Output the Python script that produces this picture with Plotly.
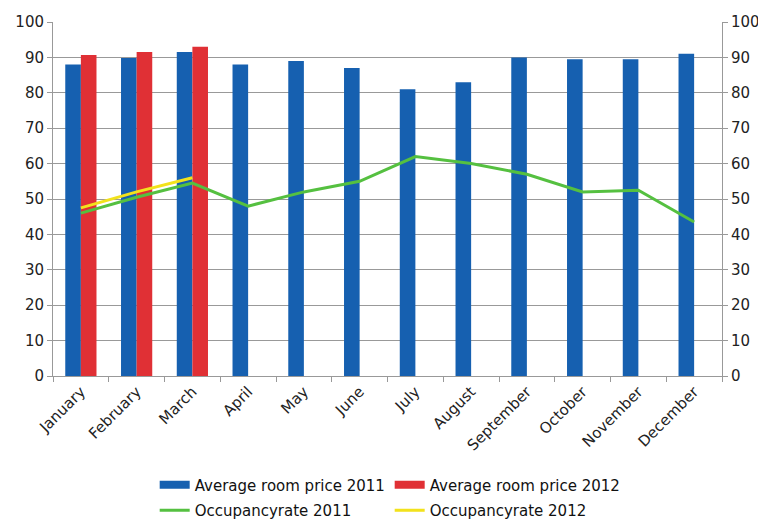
import plotly.graph_objects as go

months = ["January", "February", "March", "April", "May", "June", "July",
          "August", "September", "October", "November", "December"]
price_2011 = [88, 89.8, 91.5, 88, 89, 87, 81, 83, 90, 89.5, 89.5, 91]
price_2012 = [90.7, 91.5, 93, None, None, None, None, None, None, None, None, None]
occ_2011 = [46, 50.5, 54.5, 48, 52, 55, 62, 60, 57, 52, 52.5, 43.5]
occ_2012 = [47.5, 52, 56]
tick_vals = [0, 10, 20, 30, 40, 50, 60, 70, 80, 90, 100]

BLUE = "#1660B0"
RED = "#E03035"
GREEN = "#55C040"
YELLOW = "#F2E21C"

fig = go.Figure()
fig.add_trace(go.Bar(x=months, y=price_2011, name="Average room price 2011",
                     marker=dict(color=BLUE, line=dict(width=0)), showlegend=False))
fig.add_trace(go.Bar(x=months, y=price_2012, name="Average room price 2012",
                     marker=dict(color=RED, line=dict(width=0)), showlegend=False))
fig.add_trace(go.Scatter(x=months, y=occ_2011, name="Occupancyrate 2011", mode="lines",
                         line=dict(color=GREEN, width=3), yaxis="y2", legend="legend2"))
fig.add_trace(go.Scatter(x=months[:3], y=occ_2012, name="Occupancyrate 2012", mode="lines",
                         line=dict(color=YELLOW, width=3), yaxis="y2", legend="legend2"))
# legend-only swatches for the bar series (wide rectangles like the original)
fig.add_trace(go.Scatter(x=[None], y=[None], name="Average room price 2011", mode="lines",
                         line=dict(color=BLUE, width=8), legend="legend"))
fig.add_trace(go.Scatter(x=[None], y=[None], name="Average room price 2012", mode="lines",
                         line=dict(color=RED, width=8), legend="legend"))

FONT = "DejaVu Sans, Liberation Sans, Arial, sans-serif"
tick_font = dict(family=FONT, size=15, color="#222222")
leg_font = dict(family=FONT, size=15, color="#111111")
leg_common = dict(orientation="h", xanchor="left", yanchor="middle",
                  entrywidth=190, entrywidthmode="pixels", font=leg_font,
                  traceorder="normal", bgcolor="rgba(0,0,0,0)")

fig.update_layout(
    template="none",
    width=766, height=519,
    margin=dict(l=45, r=52, t=14, b=151, autoexpand=False),
    paper_bgcolor="white", plot_bgcolor="white",
    barmode="group", bargap=0.44, bargroupgap=0,
    font=tick_font,
    showlegend=True,
    legend=dict(x=0.152, y=-0.308, **leg_common),
    legend2=dict(x=0.152, y=-0.38, **leg_common),
    xaxis=dict(tickangle=-45, showline=True, linecolor="#999999", linewidth=1,
               ticks="outside", ticklen=5, tickcolor="#999999", showgrid=False,
               tickson="boundaries", automargin=False, tickfont=tick_font),
    yaxis=dict(range=[0, 100], tickvals=tick_vals, showline=True, linecolor="#999999",
               ticks="outside", ticklen=5, tickcolor="#999999", showgrid=True,
               gridcolor="#999999", gridwidth=1, zeroline=False, automargin=False,
               tickfont=tick_font),
    yaxis2=dict(range=[0, 100], tickvals=tick_vals, overlaying="y", side="right",
                showline=True, linecolor="#999999", ticks="outside", ticklen=5,
                tickcolor="#999999", showgrid=False, zeroline=False, automargin=False,
                tickfont=tick_font),
)

fig.write_html("out.html")
